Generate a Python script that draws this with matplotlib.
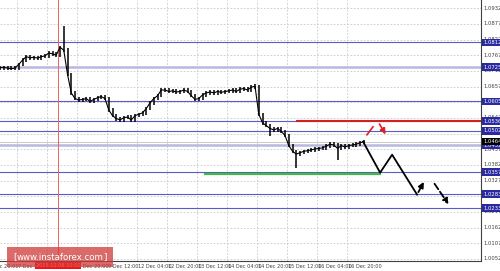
import matplotlib
matplotlib.use('Agg')
import matplotlib.pyplot as plt
from matplotlib.patches import Rectangle
import matplotlib.transforms as mtransforms

# close of each 2h bar (bar i sits at hour 2*i)
closes = [1.0723, 1.0725, 1.0722, 1.0720, 1.0722, 1.0735, 1.0750, 1.0762, 1.0758, 1.0760,
          1.0757, 1.0762, 1.0765, 1.0775, 1.0772, 1.0768, 1.0795, 1.0785, 1.0700, 1.0635,
          1.0615, 1.0610, 1.0612, 1.0615, 1.0605, 1.0612, 1.0618, 1.0622, 1.0615, 1.0575,
          1.0555, 1.0545, 1.0540, 1.0548, 1.0550, 1.0540, 1.0555, 1.0560, 1.0565, 1.0580,
          1.0600, 1.0615, 1.0625, 1.0645, 1.0645, 1.0640, 1.0642, 1.0638, 1.0640, 1.0645,
          1.0640, 1.0625, 1.0612, 1.0615, 1.0628, 1.0635, 1.0638, 1.0635, 1.0640, 1.0637,
          1.0640, 1.0642, 1.0645, 1.0640, 1.0648, 1.0650, 1.0645, 1.0655, 1.0658, 1.0560,
          1.0530, 1.0520, 1.0510, 1.0505, 1.0510, 1.0500, 1.0485, 1.0450, 1.0430, 1.0420,
          1.0425, 1.0430, 1.0432, 1.0435, 1.0438, 1.0440, 1.0442, 1.0448, 1.0455, 1.0452,
          1.0440, 1.0450, 1.0445, 1.0450, 1.0452, 1.0455, 1.0460, 1.0464]
wick_hi = {17: 1.0870, 68: 1.0665, 43: 1.0652}
wick_lo = {79: 1.0373, 90: 1.0401, 72: 1.0485, 24: 1.0598, 31: 1.0535}

# horizontal levels
blue_levels = [1.0812, 1.0605, 1.0536, 1.0502, 1.0357, 1.0280, 1.0230]
pale_levels = [1.0725, 1.0452]
red_level = 1.0536
red_start = 158.4
bid = 1.0464
level_labels = ['1.0812', '1.0725', '1.0605', '1.0536', '1.0502', '1.0452', '1.0357', '1.0283', '1.0233']
level_values = [1.0812, 1.0725, 1.0605, 1.0536, 1.0502, 1.0452, 1.0357, 1.0280, 1.0230]

# y ticks
ytick_vals = [1.0932 - 0.0055 * k for k in range(17)]

# x ticks (hours) and labels
xtick_hours = [-7, 9, 25, 41, 57, 73, 89, 105, 121, 137, 153, 169, 185]
xtick_labels = ['6 Dec 20:00', '7 Dec 12:00', '', '8 Dec 20:00', '9 Dec 12:00',
                '12 Dec 04:00', '12 Dec 20:00', '13 Dec 12:00', '14 Dec 04:00',
                '14 Dec 20:00', '15 Dec 12:00', '16 Dec 04:00', '16 Dec 20:00']
marker_hour = 30.9
marker_label = '2015.12.08 10:00'

# forecast paths
fc_x = [193.6, 202.7, 209.1, 222.4]
fc_y = [1.0464, 1.0355, 1.0418, 1.0278]
up_arrow = [(222.4, 1.0278), (226.7, 1.0331)]
dash_arrow = [(230.9, 1.0324), (240.0, 1.0236)]
red_tick = [(195.7, 1.0488), (198.9, 1.0516)]
red_arrow = [(201.6, 1.0534), (206.4, 1.0481)]
green_x = [109.3, 202.7]
green_y = [1.0351, 1.0351]

fig = plt.figure(figsize=(5, 2.71), dpi=100)
ax = fig.add_axes([0, 0.037, 0.962, 0.963])
ax.set_xlim(0, 256.5)
ax.set_ylim(1.0045, 1.0961)

# grid
for v in ytick_vals:
    ax.axhline(v, color='#c8c8c8', lw=0.6, ls=(0, (2, 2)), zorder=0)
for h in xtick_hours:
    ax.axvline(h, color='#c8c8c8', lw=0.6, ls=(0, (2, 2)), zorder=0)

# levels
for v in blue_levels:
    ax.axhline(v, color='#5a5ac8', lw=0.8, zorder=1)
for v in pale_levels:
    ax.axhline(v, color='#b8b8e0', lw=1.8, zorder=1)
ax.axhline(bid, color='#c0c0c0', lw=0.6, zorder=1)
ax.plot([red_start, 256.5], [red_level, red_level], color='#d42020', lw=1.5, zorder=2)
ax.axvline(marker_hour, color='#f06060', lw=0.7, zorder=1)

# price bars
wick = 0.0006
for i, c in enumerate(closes):
    o = closes[i - 1] if i > 0 else c
    lo = wick_lo.get(i, min(o, c) - wick)
    hi = wick_hi.get(i, max(o, c) + wick)
    ax.vlines(2 * i, lo, hi, color='black', lw=1.1, zorder=3)
ax.plot([2 * i for i in range(len(closes))], closes, color='black', lw=0.8, zorder=3)

# forecast
ax.plot(green_x, green_y, color='#3cc03c', lw=1.6, zorder=4)
ax.plot(fc_x, fc_y, color='black', lw=1.3, zorder=4)
ax.annotate('', xy=up_arrow[1], xytext=up_arrow[0],
            arrowprops=dict(arrowstyle='-|>', color='black', lw=1.3, mutation_scale=8))
ax.annotate('', xy=dash_arrow[1], xytext=dash_arrow[0],
            arrowprops=dict(arrowstyle='-|>', color='black', lw=1.3, ls='--', mutation_scale=8))
ax.plot([p[0] for p in red_tick], [p[1] for p in red_tick], color='#e02020', lw=1.2, zorder=4)
ax.annotate('', xy=red_arrow[1], xytext=red_arrow[0],
            arrowprops=dict(arrowstyle='-|>', color='#e02020', lw=1.2, ls='--', mutation_scale=8))

# axes frame
for s in ['left', 'top']:
    ax.spines[s].set_visible(False)
ax.spines['right'].set_color('#404040')
ax.spines['bottom'].set_color('#404040')
ax.spines['right'].set_linewidth(0.8)
ax.spines['bottom'].set_linewidth(0.8)
ax.set_xticks([])
ax.set_yticks([])

# y labels
ty = mtransforms.blended_transform_factory(ax.transAxes, ax.transData)
for v in ytick_vals:
    ax.text(1.004, v, f'{v:.4f}', transform=ty, fontsize=3.8, color='#404040',
            va='center', ha='left', clip_on=False)
for v, t in zip(level_values, level_labels):
    ax.text(1.004, v, t, transform=ty, fontsize=3.8, color='white', va='center', ha='left',
            clip_on=False, zorder=6,
            bbox=dict(boxstyle='square,pad=0.25', fc='#2a2aa0', ec='none'))
ax.text(1.004, bid, f'{bid:.4f}', transform=ty, fontsize=3.8, color='white', va='center',
        ha='left', clip_on=False, zorder=6,
        bbox=dict(boxstyle='square,pad=0.25', fc='black', ec='none'))

# x labels
tx = mtransforms.blended_transform_factory(ax.transData, ax.transAxes)
for h, t in zip(xtick_hours, xtick_labels):
    if t:
        ax.text(h + 0.5, -0.012, t, transform=tx, fontsize=3.6, color='#404040',
                va='top', ha='left', clip_on=False)
ax.text(marker_hour, -0.008, marker_label, transform=tx, fontsize=3.6, color='white',
        va='top', ha='center', clip_on=False, zorder=6,
        bbox=dict(boxstyle='square,pad=0.2', fc='#ff1010', ec='none'))

# watermark
fig.patches.append(Rectangle((7 / 500, 4 / 271), 106 / 500, 20 / 271, transform=fig.transFigure,
                             fc='#d03838', alpha=0.75, ec='none', zorder=10))
fig.text(13 / 500, 14 / 271, '[', fontsize=6.5, color='white', va='center', ha='left', zorder=11)
fig.text(60 / 500, 14 / 271, 'www.instaforex.com', fontsize=6.2, color='white',
         va='center', ha='center', zorder=11)
fig.text(107 / 500, 14 / 271, ']', fontsize=6.5, color='white', va='center', ha='right', zorder=11)

fig.savefig('out.png', dpi=100)
